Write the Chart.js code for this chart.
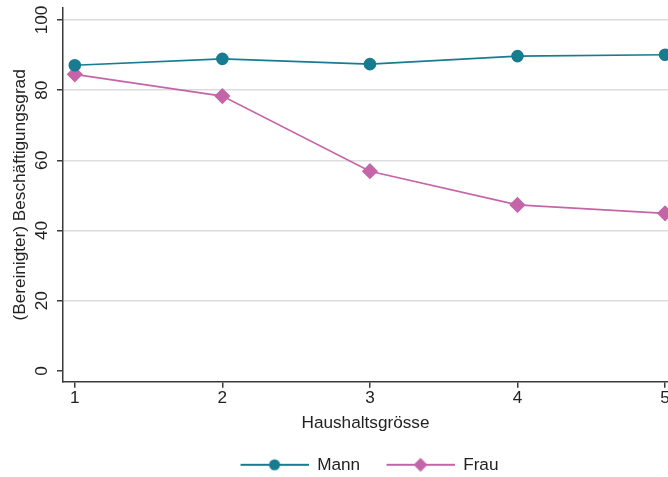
<!DOCTYPE html>
<html>
<head>
<meta charset="utf-8">
<script src="https://cdn.jsdelivr.net/npm/chart.js@4"></script>
<style>
  html, body { margin: 0; padding: 0; background: #fff; }
  #wrap { width: 668px; height: 477px; }
</style>
</head>
<body>
<div id="wrap"><canvas id="chart" width="668" height="477"></canvas></div>
<script>
// household size on the x axis
const haushaltsgroesse = [1, 2, 3, 4, 5];
// employment rate by sex
const mann = [87.1, 88.9, 87.4, 89.7, 90.1];
const frau = [84.5, 78.3, 56.9, 47.3, 44.9];
const yTicks = [0, 20, 40, 60, 80, 100];

const colMann = '#177c90';
const colFrau = '#c565a9';
const axisCol = '#3a3a3a';
const font = "'Liberation Sans', Arial, sans-serif";
const fs = 17.2;

// small image for legend: line with marker, a bit of blank space on the left
function legendIcon(color, style) {
  const c = document.createElement('canvas');
  c.width = 76; c.height = 16;
  const g = c.getContext('2d');
  g.strokeStyle = color; g.lineWidth = 2;
  g.beginPath(); g.moveTo(8, 8); g.lineTo(76, 8); g.stroke();
  g.fillStyle = color;
  g.beginPath();
  if (style === 'circle') {
    g.arc(42, 8, 5.5, 0, Math.PI * 2);
  } else {
    g.moveTo(42, 1); g.lineTo(49, 8); g.lineTo(42, 15); g.lineTo(35, 8); g.closePath();
  }
  g.fill();
  return c;
}

const ctx = document.getElementById('chart');
new Chart(ctx, {
  type: 'line',
  data: {
    datasets: [
      {
        label: 'Mann',
        data: haushaltsgroesse.map((x, i) => ({ x: x, y: mann[i] })),
        borderColor: colMann,
        backgroundColor: colMann,
        borderWidth: 1.6,
        pointStyle: 'circle',
        pointRadius: 5.5,
        pointHoverRadius: 5.5,
        icon: legendIcon(colMann, 'circle')
      },
      {
        label: 'Frau',
        data: haushaltsgroesse.map((x, i) => ({ x: x, y: frau[i] })),
        borderColor: colFrau,
        backgroundColor: colFrau,
        borderWidth: 1.6,
        pointStyle: 'rectRot',
        pointRadius: 7,
        pointHoverRadius: 7,
        icon: legendIcon(colFrau, 'diamond')
      }
    ]
  },
  options: {
    responsive: false,
    animation: false,
    layout: { autoPadding: false, padding: { top: 8, right: 0, left: 0, bottom: -6.4 } },
    plugins: {
      tooltip: { enabled: false },
      legend: {
        position: 'bottom',
        fullSize: false,
        labels: {
          usePointStyle: true,
          pointStyleWidth: 76,
          padding: 18.4,
          color: '#222',
          font: { family: font, size: fs },
          generateLabels: function(chart) {
            return chart.data.datasets.map((ds, i) => ({
              text: ds.label,
              pointStyle: ds.icon,
              fontColor: '#222',
              hidden: false,
              datasetIndex: i
            }));
          }
        }
      }
    },
    scales: {
      x: {
        type: 'linear',
        min: 0.92,
        max: 5.02,
        afterBuildTicks: s => { s.ticks = haushaltsgroesse.map(v => ({ value: v })); },
        afterFit: s => { s.height = 56; s.paddingLeft = 0; s.paddingRight = 0; },
        border: { color: axisCol, width: 1.5 },
        grid: { drawOnChartArea: false, drawTicks: true, tickLength: 6, tickColor: axisCol, lineWidth: 1.5 },
        ticks: { color: '#222', padding: 0, font: { family: font, size: fs } },
        title: { display: true, text: 'Haushaltsgrösse', color: '#222', padding: { top: 0, bottom: 4 }, font: { family: font, size: fs } }
      },
      y: {
        type: 'linear',
        min: -3.1,
        max: 103.4,
        afterBuildTicks: s => { s.ticks = yTicks.map(v => ({ value: v })); },
        afterFit: s => { s.width = 63; s.paddingTop = 0; s.paddingBottom = 0; },
        border: { color: axisCol, width: 1.5 },
        grid: {
          color: c => (c.tick && c.tick.value === 0) ? 'rgba(0,0,0,0)' : '#dcdcdc',
          lineWidth: 1.5,
          tickLength: 6,
          tickColor: axisCol
        },
        ticks: {
          color: '#222',
          minRotation: 90,
          maxRotation: 90,
          crossAlign: 'center',
          padding: 0,
          font: { family: font, size: fs }
        },
        title: { display: true, text: '(Bereinigter) Beschäftigungsgrad', color: '#222', padding: { top: 9.5 }, font: { family: font, size: fs } }
      }
    }
  }
});
</script>
</body>
</html>
